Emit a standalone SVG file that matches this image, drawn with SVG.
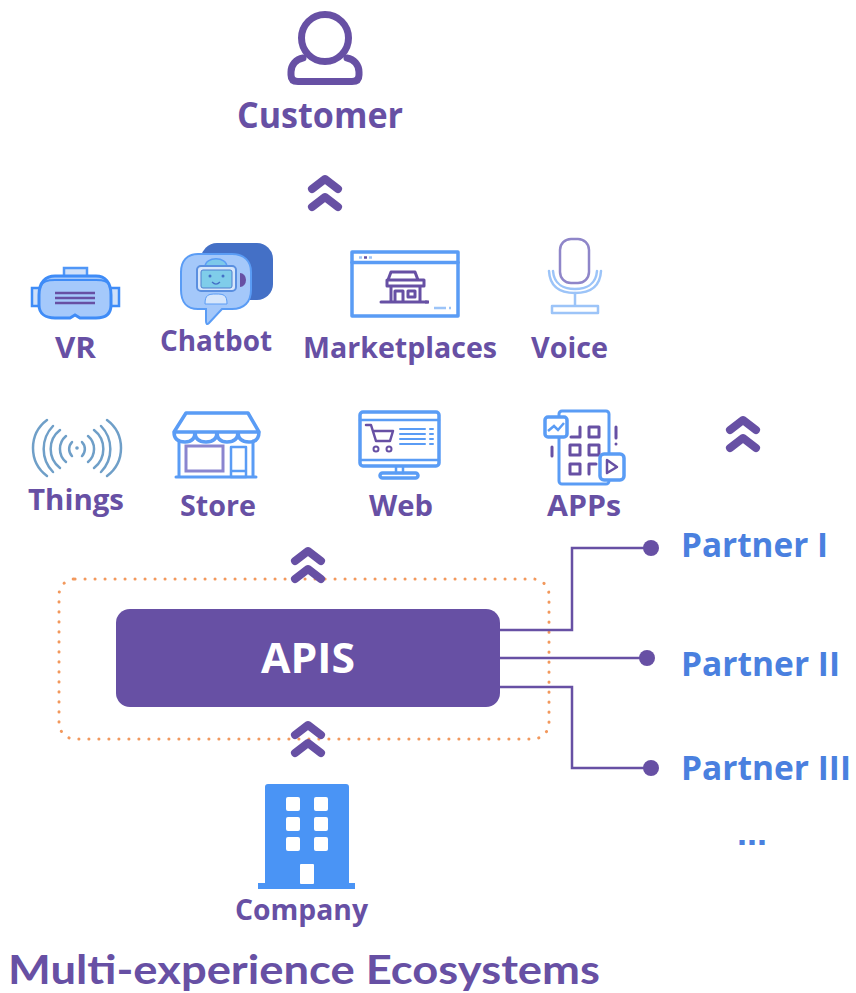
<svg xmlns="http://www.w3.org/2000/svg" width="856" height="993" viewBox="0 0 856 993">
<style>
text{font-family:"Open Sans","Noto Sans","Liberation Sans",sans-serif;font-weight:700}
.l{fill:#6750a4;font-size:29px;text-anchor:start}
.p{fill:#4a80df;font-size:34px}
.c{fill:none;stroke:#6750a4;stroke-width:2.500}
.d{fill:#6750a4}
.ch{fill:none;stroke:#6750a4;stroke-width:8;stroke-linecap:round;stroke-linejoin:round}
.b{fill:none;stroke:#5a9cf5;stroke-width:3.500;stroke-linejoin:round;stroke-linecap:round}
.b2{fill:none;stroke:#9cc4f8;stroke-width:2.500;stroke-linecap:round;stroke-linejoin:round}
.u{fill:none;stroke:#6750a4;stroke-width:3;stroke-linejoin:round;stroke-linecap:round}
.w{fill:none;stroke:#6f9fc8;stroke-width:2.500;stroke-linecap:round}
</style>
<defs>
<g id="dbl"><path class="ch" d="M-13 -4L0 -14L13 -4M-13 14L0 4L13 14"/></g>
</defs>

<g id="apis">
<rect x="59" y="579" width="490" height="160" rx="16" fill="none" stroke="#f2985c" stroke-width="3" stroke-linecap="round" stroke-dasharray="0.100 9.900"/>
<rect x="116" y="609" width="384" height="98" rx="14" fill="#6750a4"/>
<text x="308" y="673" fill="#fff" font-size="41" text-anchor="middle" textLength="94" lengthAdjust="spacingAndGlyphs">APIS</text>
</g>

<g id="connectors">
<path class="c" d="M500 630H572V548H651"/>
<path class="c" d="M500 658H647"/>
<path class="c" d="M500 687H572V768H651"/>
<circle class="d" cx="651" cy="548" r="8"/>
<circle class="d" cx="647" cy="658" r="8"/>
<circle class="d" cx="651" cy="768" r="8"/>
<use href="#dbl" x="325" y="193"/>
<use href="#dbl" x="743" y="434"/>
<use href="#dbl" x="308" y="565"/>
<use href="#dbl" x="308" y="739"/>
</g>

<g id="customer">
<circle cx="325" cy="38" r="23.500" fill="none" stroke="#6750a4" stroke-width="7"/>
<path d="M303 58C296 59 291 65 291 72V75Q291 81.500 298 81.500H352Q359 81.500 359 75V72C359 65 354 59 347 58" fill="none" stroke="#6750a4" stroke-width="7" stroke-linecap="round"/>
<text x="237" y="128" fill="#6750a4" font-size="35" textLength="166" lengthAdjust="spacingAndGlyphs">Customer</text>
</g>

<g id="vr">
<path d="M64 276V268H87V276" fill="#cfe0f9" stroke="#4f96f7" stroke-width="2.500"/>
<rect x="32" y="288" width="9" height="18" fill="#cfe0f9" stroke="#3f8cf7" stroke-width="2.500"/>
<rect x="110" y="288" width="9" height="18" fill="#cfe0f9" stroke="#3f8cf7" stroke-width="2.500"/>
<path d="M39 295C39 282 46 276 55 276H96C105 276 111 282 111 295V305C111 314 105 318 96 318H80L75 315L70 318H55C46 318 39 314 39 305Z" fill="#a5c9fb" stroke="#3f8cf7" stroke-width="3"/>
<path d="M40 288C42 281 48 280 55 280H96C103 280 109 281 110 288" fill="none" stroke="#3f8cf7" stroke-width="2"/>
<path d="M55 293H95M55 298H95M55 303H95" stroke="#6750a4" stroke-width="2.500" fill="none"/>
<text class="l" x="55" y="358" textLength="41" lengthAdjust="spacingAndGlyphs">VR</text>
</g>

<g id="chatbot">
<rect x="201" y="243" width="72" height="57" rx="16" fill="#4470c6"/>
<path d="M198 254H232C244 254 251 261 251 272V290C251 302 244 309 232 309H222L209 323C207 325 206 324 206 321V309H198C187 309 181 302 181 290V272C181 261 187 254 198 254Z" fill="#a4c8fa" stroke="#5a9cf5" stroke-width="2"/>
<path d="M205 267C205 256 227 256 227 267Z" fill="#7cc8ea" stroke="#5a9cf5" stroke-width="1.500"/>
<path d="M240 273A6 7 0 0 1 240 287Z" fill="#6750a4"/>
<rect x="197" y="266" width="39" height="25" rx="4" fill="#d6e6fb" stroke="#5a8fe0" stroke-width="2"/>
<rect x="201" y="270" width="31" height="18" rx="2" fill="#7fcdea" stroke="#4f7fce" stroke-width="1"/>
<circle cx="210" cy="276" r="1.500" fill="#4470c6"/>
<circle cx="223" cy="276" r="1.500" fill="#4470c6"/>
<path d="M212 282Q216 286 220 282" fill="none" stroke="#4470c6" stroke-width="1.200"/>
<path d="M205 304C205 295 208 294 216 294C224 294 227 295 227 304Z" fill="#d6e6fb" stroke="#5a9cf5" stroke-width="1"/>
<text class="l" x="160" y="351" textLength="112" lengthAdjust="spacingAndGlyphs">Chatbot</text>
</g>

<g id="marketplaces">
<rect x="352" y="252" width="106" height="64" class="b"/>
<path d="M352 262.500H458" class="b"/>
<path d="M359 257.500H362" stroke="#9cc4f8" stroke-width="2.500"/>
<path d="M364 257.500H367" stroke="#6750a4" stroke-width="2.500"/>
<path d="M369 257.500H372" stroke="#9cc4f8" stroke-width="2.500"/>
<path d="M434 308H446M449 308H451" stroke="#9cc4f8" stroke-width="2.500"/>
<path class="u" d="M391 272H415L418 280H388ZM387 280H424V286H387ZM391 286V302M420 286V302M381 302H427M395 302V291H403V302M408 291H415V297H408Z"/>
<path d="M425 302H429" stroke="#6750a4" stroke-width="3"/>
<text class="l" x="303" y="358" textLength="194" lengthAdjust="spacingAndGlyphs">Marketplaces</text>
</g>

<g id="voice">
<rect x="560" y="239" width="29" height="44" rx="11" fill="none" stroke="#8f86c9" stroke-width="2.500"/>
<path class="b2" d="M549 271C550 289 563 293 575 293C587 293 600 289 601 271M553 271C554 285 565 289 575 289C585 289 596 285 597 271"/>
<path class="b2" d="M575 293V306M552 306H598V313H552Z"/>
<text class="l" x="531" y="358" textLength="77" lengthAdjust="spacingAndGlyphs">Voice</text>
</g>

<g id="things">
<circle cx="77" cy="448" r="1.800" fill="#6f9fc8"/>
<path class="w" d="M47 420A35 35 0 0 0 47 476M53 426A33 33 0 0 0 53 472M60 430A24 24 0 0 0 60 468M66 436A17 17 0 0 0 66 462M72 442A10 10 0 0 0 72 456M107 420A35 35 0 0 1 107 476M101 426A33 33 0 0 1 101 472M94 430A24 24 0 0 1 94 468M88 436A17 17 0 0 1 88 462M82 442A10 10 0 0 1 82 456"/>
<text class="l" x="28" y="510" textLength="96" lengthAdjust="spacingAndGlyphs">Things</text>
</g>

<g id="store">
<path class="b" d="M186 413H248L259 432H174ZM174 432Q174 442 185 442Q195 442 195 432Q195 442 206 442Q217 442 217 432Q217 442 227 442Q238 442 238 432Q238 442 249 442Q259 442 259 432"/>
<path class="b" d="M179 441V477M253 441V477M176 477H256" style="stroke-width:3"/>
<rect x="186" y="446" width="37" height="25" fill="none" stroke="#8a85cf" stroke-width="3"/>
<path class="b" d="M231 447H246V477H231ZM231 471H246" style="stroke-width:2.500"/>
<text class="l" x="180" y="516" textLength="76" lengthAdjust="spacingAndGlyphs">Store</text>
</g>

<g id="web">
<rect x="360" y="412" width="79" height="54" rx="3" class="b"/>
<path class="b" d="M360 420H439M360 460H439" style="stroke-width:2.500"/>
<path class="b" d="M396 467V473M403 467V473" style="stroke-width:2.500"/>
<rect x="380" y="473" width="38" height="5" rx="2.500" class="b"/>
<path class="u" d="M366 425H371L376 441H390L393 431H373" style="stroke-width:2.500"/>
<circle cx="376" cy="449" r="2.500" class="u" style="stroke-width:2"/>
<circle cx="389" cy="449" r="2.500" class="u" style="stroke-width:2"/>
<path class="b" d="M400 429H425M400 434H425M400 439H425M400 444H425M430 429H433M430 434H433M430 439H433M430 444H433" style="stroke-width:2"/>
<text class="l" x="369" y="516" textLength="64" lengthAdjust="spacingAndGlyphs">Web</text>
</g>

<g id="apps">
<rect x="559" y="411" width="50" height="73" rx="3" class="b" style="stroke-width:3"/>
<rect x="545" y="417" width="22" height="20" rx="3" fill="#fff" stroke="#5a9cf5" stroke-width="3.500"/>
<path d="M548 431L554 426L558 430L564 423" fill="none" stroke="#5a9cf5" stroke-width="2.500"/>
<path class="u" d="M571 437H580V427M589 427H599V437H589ZM570 445H580V455H570ZM589 445H599V455H589ZM570 464H580V474H570ZM589 474V464H596M616 427V438M552 447V456" style="stroke-width:3"/>
<circle cx="616" cy="444" r="1.500" fill="#6750a4"/>
<rect x="600" y="454" width="24" height="26" rx="4" fill="#fff" stroke="#5a9cf5" stroke-width="3.500"/>
<path class="u" d="M607 460L617 467L607 473Z" style="stroke-width:2.500"/>
<text class="l" x="547" y="516" textLength="74" lengthAdjust="spacingAndGlyphs">APPs</text>
</g>

<g id="partner-1"><text class="p" x="681" y="557" textLength="147" lengthAdjust="spacingAndGlyphs">Partner I</text></g>
<g id="partner-2"><text class="p" x="681" y="676" textLength="159" lengthAdjust="spacingAndGlyphs">Partner II</text></g>
<g id="partner-3"><text class="p" x="681" y="780" textLength="170" lengthAdjust="spacingAndGlyphs">Partner III</text></g>
<g id="partner-more"><text class="p" x="737" y="845" style="font-family:'Liberation Sans',sans-serif" textLength="30" lengthAdjust="spacingAndGlyphs">...</text></g>

<g id="company">
<path d="M265 883V787Q265 784 268 784H346Q349 784 349 787V883H355V889H258V883Z" fill="#4a94f5"/>
<g fill="#fff"><rect x="286" y="797" width="14" height="14" rx="2"/><rect x="314" y="797" width="14" height="14" rx="2"/><rect x="286" y="817" width="14" height="14" rx="2"/><rect x="314" y="817" width="14" height="14" rx="2"/><rect x="286" y="837" width="14" height="14" rx="2"/><rect x="314" y="837" width="14" height="14" rx="2"/><rect x="300" y="864" width="14" height="20" rx="1"/></g>
<text class="l" x="235" y="920" textLength="133" lengthAdjust="spacingAndGlyphs">Company</text>
</g>

<g id="title"><text x="8" y="984" fill="#6750a4" font-size="41" style="font-family:Lato,'Open Sans',sans-serif" textLength="592" lengthAdjust="spacingAndGlyphs">Multi-experience Ecosystems</text></g>
</svg>
